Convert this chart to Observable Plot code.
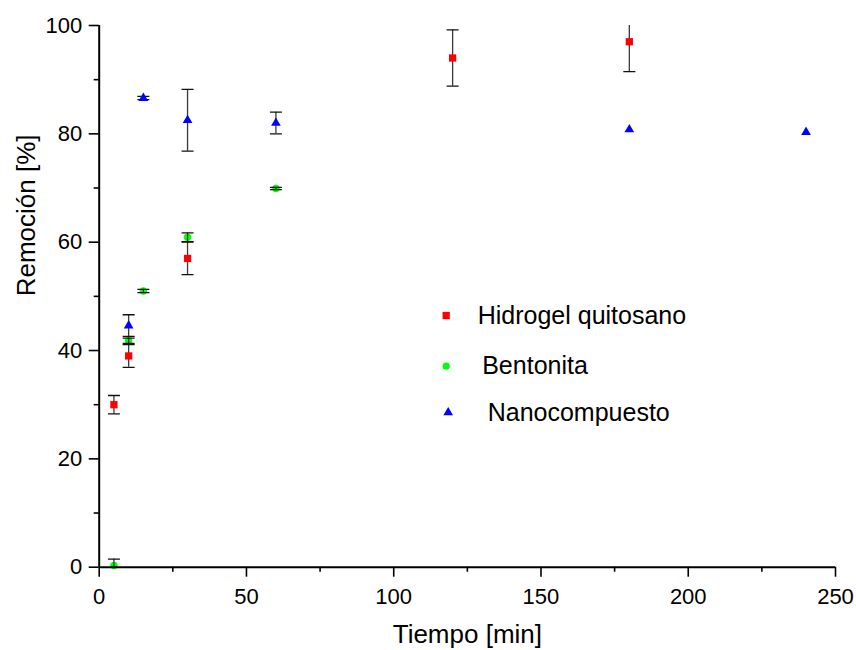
<!DOCTYPE html>
<html>
<head>
<meta charset="utf-8">
<script src="https://cdn.jsdelivr.net/npm/d3@7"></script>
<script src="https://cdn.jsdelivr.net/npm/@observablehq/plot@0.6"></script>
<style>
  html, body { margin: 0; padding: 0; background: #fff; }
  #chart { width: 856px; height: 650px; }
</style>
</head>
<body>
<div id="chart"></div>
<script>
// ---- Data ----
const seriesNames = ["Hidrogel quitosano", "Bentonita", "Nanocompuesto"];
const seriesColors = ["#ff0000", "#00ff00", "#0000ff"];
const seriesSymbols = ["square", "circle", "triangle"];

const tiempoHidrogel = [5, 10, 30, 120, 180];
const remHidrogel    = [30.0, 39.0, 57.0, 94.0, 97.0];
const errHidrogel    = [1.7, 2.1, 3.0, 5.2, 5.5];

const tiempoBentonita = [5, 10, 15, 30, 60];
const remBentonita    = [0.3, 41.8, 51.0, 60.9, 69.9];
const errBentonita    = [1.2, 0.5, 0.3, 0.8, 0.2];

const tiempoNano = [10, 15, 30, 60, 180, 240];
const remNano    = [44.6, 86.6, 82.5, 82.0, 80.8, 80.3];
const errNano    = [2.0, 0.3, 5.7, 2.0, 0, 0];

const xTicks = [0, 50, 100, 150, 200, 250];
const xMinor = [25, 75, 125, 175, 225];
const yTicks = [0, 20, 40, 60, 80, 100];
const yMinor = [10, 30, 50, 70, 90];

const xLabel = "Tiempo [min]";
const yLabel = "Remoción [%]";

// ---- Build tables ----
function table(name, xs, ys, es) {
  return xs.map((x, i) => ({serie: name, x, y: ys[i], e: es[i]}));
}
const hidrogel = table(seriesNames[0], tiempoHidrogel, remHidrogel, errHidrogel);
const bentonita = table(seriesNames[1], tiempoBentonita, remBentonita, errBentonita);
const nano = table(seriesNames[2], tiempoNano, remNano, errNano);
const errData = [...hidrogel, ...bentonita, ...nano].filter(d => d.e > 0);

const capSymbol = {
  draw(context) { context.moveTo(-6, 0); context.lineTo(6, 0); }
};

const font = "'Liberation Sans', Arial, Helvetica, sans-serif";

// legend rows: marker offset / text offset relative to the frame's top-left
const legendRows = seriesNames.map((name, i) => ({name, i}));
const legendDy = [290, 340.7, 387];
const legendMarkDx = [347, 347, 349];
const legendTextDx = [378.5, 383, 388.5];
const legendR = [4.1, 3.6, 3.6];

const chart = Plot.plot({
  width: 856,
  height: 650,
  marginLeft: 98.7,
  marginRight: 21,
  marginTop: 25,
  marginBottom: 83.3,
  style: {fontFamily: font, fontSize: "22px", background: "#fff", color: "#000"},
  x: {domain: [0, 250]},
  y: {domain: [0, 100]},
  marks: [
    // Bentonita (drawn below error bars)
    Plot.dot(bentonita, {x: "x", y: "y", r: 3.7, symbol: "circle", fill: seriesColors[1], stroke: "none"}),
    // error bars
    Plot.ruleX(errData, {x: "x", y1: d => d.y - d.e, y2: d => d.y + d.e, stroke: "#3a3a3a", strokeWidth: 1.3, clip: true}),
    Plot.dot(errData, {x: "x", y: d => d.y + d.e, symbol: capSymbol, stroke: "#111", strokeWidth: 1.3, fill: "none", clip: true}),
    Plot.dot(errData, {x: "x", y: d => d.y - d.e, symbol: capSymbol, stroke: "#111", strokeWidth: 1.3, fill: "none", clip: true}),
    // Hidrogel and Nanocompuesto
    Plot.dot(hidrogel, {x: "x", y: "y", r: 4.1, symbol: "square", fill: seriesColors[0], stroke: "none"}),
    Plot.dot(nano, {x: "x", y: "y", r: 3.6, symbol: "triangle", fill: seriesColors[2], stroke: "none"}),
    // axes: minor ticks
    Plot.axisX({ticks: xMinor, tickSize: 5, text: null, strokeWidth: 1.6, label: null}),
    Plot.axisY({ticks: yMinor, tickSize: 5, text: null, strokeWidth: 1.6, label: null}),
    // axes: major ticks
    Plot.axisX({ticks: xTicks, tickSize: 10, tickPadding: 11, strokeWidth: 1.6, fontSize: 22, label: null}),
    Plot.axisY({ticks: yTicks, tickSize: 10, tickPadding: 7, strokeWidth: 1.6, fontSize: 22, label: null}),
    // axis lines
    Plot.ruleY([0], {stroke: "#000", strokeWidth: 2}),
    Plot.ruleX([0], {stroke: "#000", strokeWidth: 2}),
    // axis labels
    Plot.text([xLabel], {text: d => d, frameAnchor: "bottom", dy: 67.3, lineAnchor: "middle", fontSize: 26, fill: "#000"}),
    Plot.text([yLabel], {text: d => d, frameAnchor: "left", dx: -72.7, rotate: -90, lineAnchor: "middle", fontSize: 26, fill: "#000"}),
    // legend
    ...legendRows.map(({name, i}) => Plot.dot([name], {
      frameAnchor: "top-left", dx: legendMarkDx[i], dy: legendDy[i],
      r: legendR[i], symbol: seriesSymbols[i], fill: seriesColors[i], stroke: "none"
    })),
    ...legendRows.map(({name, i}) => Plot.text([name], {
      text: d => d, frameAnchor: "top-left", dx: legendTextDx[i], dy: legendDy[i],
      textAnchor: "start", lineAnchor: "middle", fontSize: 25, fill: "#000"
    }))
  ]
});
document.getElementById("chart").appendChild(chart);
</script>
</body>
</html>
